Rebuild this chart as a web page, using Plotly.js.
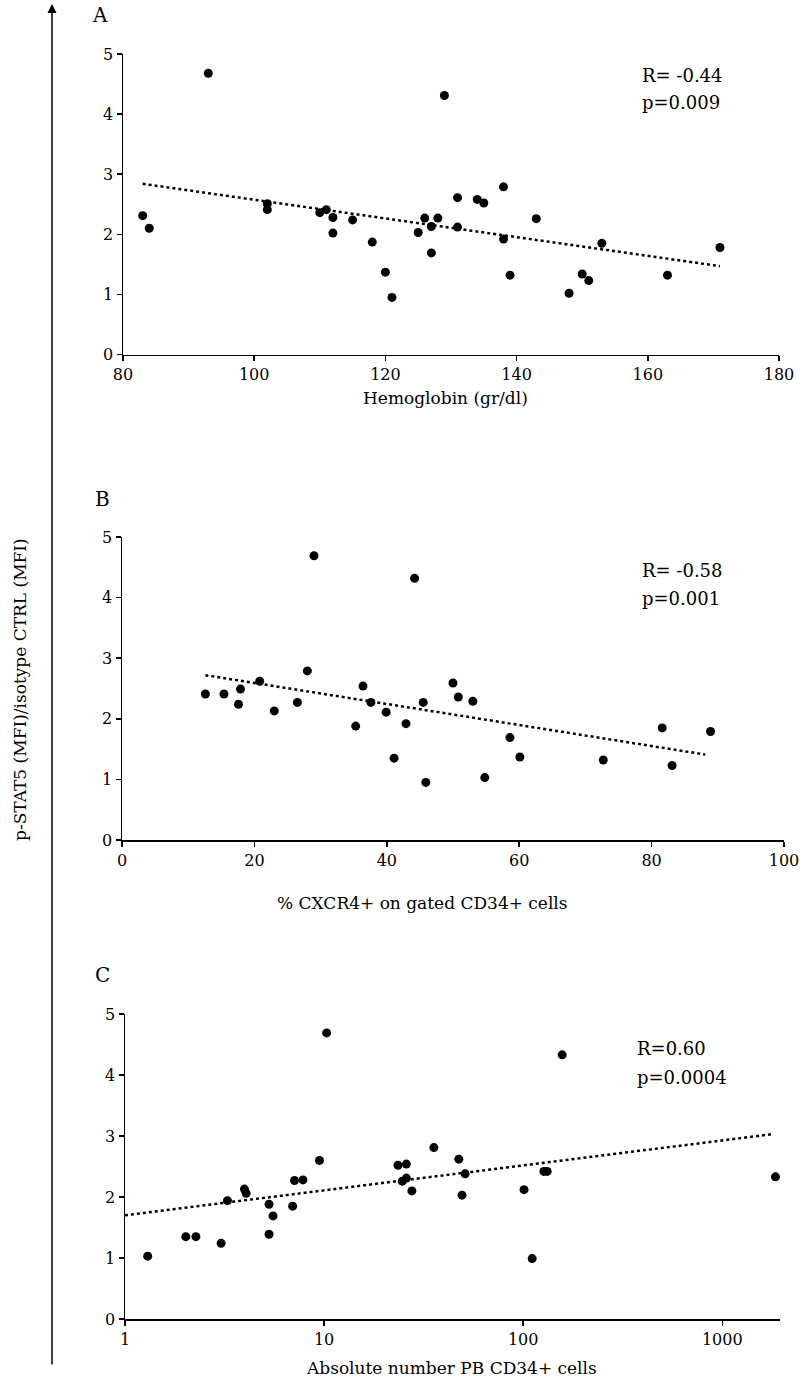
<!DOCTYPE html>
<html>
<head>
<meta charset="utf-8">
<script src="https://cdn.plot.ly/plotly-3.0.1.min.js"></script>
<style>html,body{margin:0;padding:0;background:#fff;}#chart{width:800px;height:1380px;}</style>
</head>
<body>
<div id="chart"></div>
<script>
// Panel A: Hemoglobin (gr/dl) vs p-STAT5 ratio
const hbX = [83,84,93,102,102,110,111,112,112,115,118,120,121,125,126,127,127,128,129,131,131,134,135,138,138,139,143,148,150,151,153,163,171];
const hbY = [2.31,2.10,4.68,2.51,2.41,2.36,2.41,2.28,2.02,2.24,1.87,1.37,0.95,2.03,2.27,2.13,1.69,2.27,4.31,2.61,2.12,2.58,2.52,2.79,1.92,1.32,2.26,1.02,1.34,1.23,1.85,1.32,1.78];
const hbTrendX = [83,171];
const hbTrendY = [2.84,1.47];

// Panel B: % CXCR4+ on gated CD34+ cells
const cxX = [12.6,15.4,17.6,17.9,20.8,23.0,26.5,28.0,29.0,35.3,36.4,37.6,39.9,41.1,42.9,44.2,45.5,45.9,50.0,50.8,53.0,54.8,58.6,60.1,72.7,81.6,83.1,88.9];
const cxY = [2.41,2.41,2.24,2.49,2.62,2.13,2.27,2.79,4.69,1.88,2.54,2.27,2.11,1.35,1.92,4.32,2.27,0.95,2.59,2.36,2.29,1.03,1.69,1.37,1.32,1.85,1.23,1.79];
const cxTrendX = [12.6,88.1];
const cxTrendY = [2.72,1.41];

// Panel C: Absolute number PB CD34+ cells (log)
const cdX = [1.30,2.02,2.27,3.04,3.27,3.98,4.06,5.29,5.29,5.54,6.95,7.10,7.83,9.48,10.3,23.5,24.7,25.9,25.9,27.6,35.6,47.5,49.3,51.1,101,111,127,132,157,1850];
const cdY = [1.03,1.35,1.35,1.24,1.94,2.13,2.06,1.88,1.39,1.69,1.85,2.27,2.28,2.60,4.69,2.52,2.26,2.54,2.31,2.10,2.81,2.62,2.03,2.38,2.12,0.99,2.42,2.42,4.33,2.33];
const cdTrendX = [1,1780];
const cdTrendY = [1.70,3.03];

const yTicks = [0,1,2,3,4,5];
const stats = [["R= -0.44","p=0.009"],["R= -0.58","p=0.001"],["R=0.60","p=0.0004"]];
const panelLetters = ["A","B","C"];
const xTitles = ["Hemoglobin (gr/dl)","% CXCR4+ on gated CD34+ cells","Absolute number PB CD34+ cells"];
const yTitle = "p-STAT5 (MFI)/isotype CTRL (MFI)";

const W = 800, H = 1380;
const px = x => x / W;
const py = y => 1 - y / H;
const FONT = "DejaVu Serif, Liberation Serif, serif";

const marker = {color:"#000", size: 9, symbol:"circle"};
const trendLine = {color:"#000", width: 2.5, dash:"dot"};

const traces = [
  {x: hbX, y: hbY, type:"scatter", mode:"markers", marker, xaxis:"x", yaxis:"y"},
  {x: hbTrendX, y: hbTrendY, type:"scatter", mode:"lines", line: trendLine, xaxis:"x", yaxis:"y"},
  {x: cxX, y: cxY, type:"scatter", mode:"markers", marker, xaxis:"x2", yaxis:"y2"},
  {x: cxTrendX, y: cxTrendY, type:"scatter", mode:"lines", line: trendLine, xaxis:"x2", yaxis:"y2"},
  {x: cdX, y: cdY, type:"scatter", mode:"markers", marker, xaxis:"x3", yaxis:"y3"},
  {x: cdTrendX, y: cdTrendY, type:"scatter", mode:"lines", line: trendLine, xaxis:"x3", yaxis:"y3"}
];

const axBase = {
  showline: true, linecolor:"#000", linewidth: 1.5,
  ticks:"outside", ticklen: 5, tickwidth: 1.5, tickcolor:"#000",
  showgrid:false, zeroline:false, fixedrange:true,
  ticklabeloverflow:"allow",
  tickfont:{family: FONT, size: 16, color:"#000"}
};

function yAxis(domain, anchor){
  return Object.assign({}, axBase, {domain, anchor, range:[0,5], tickvals: yTicks, ticktext: yTicks.map(String)});
}

const layout = {
  width: W, height: H,
  margin:{l:0,r:0,t:0,b:0},
  paper_bgcolor:"#fff", plot_bgcolor:"#fff",
  showlegend:false,
  font:{family: FONT, color:"#000"},
  xaxis: Object.assign({}, axBase, {domain:[px(123), px(779)], anchor:"y", range:[80,180], dtick:20, tick0:80}),
  yaxis: yAxis([py(354.5), py(54)], "x"),
  xaxis2: Object.assign({}, axBase, {domain:[px(122), px(784)], anchor:"y2", range:[0,100], dtick:20, tick0:0}),
  yaxis2: yAxis([py(840), py(537)], "x2"),
  xaxis3: Object.assign({}, axBase, {domain:[px(125), px(780)], anchor:"y3", type:"log", range:[0, 3.29], tickvals:[1,10,100,1000], ticktext:["1","10","100","1000"]}),
  yaxis3: yAxis([py(1319), py(1014)], "x3"),
  annotations: [],
  shapes: []
};

// Panel letters
const letterPos = [[100,15],[102,499],[102,975]];
panelLetters.forEach((t,i)=>{
  layout.annotations.push({text:t, x:px(letterPos[i][0]), y:py(letterPos[i][1]), xref:"paper", yref:"paper", showarrow:false, xanchor:"center", yanchor:"middle", font:{family:FONT, size:20, color:"#000"}});
});
// R / p stats
const statPos = [[640,75,103],[640,570,598],[635,1048,1077]];
stats.forEach((s,i)=>{
  layout.annotations.push({text:s[0], x:px(statPos[i][0]), y:py(statPos[i][1]), xref:"paper", yref:"paper", showarrow:false, xanchor:"left", yanchor:"middle", font:{family:FONT, size:18, color:"#000"}});
  layout.annotations.push({text:s[1], x:px(statPos[i][0]), y:py(statPos[i][2]), xref:"paper", yref:"paper", showarrow:false, xanchor:"left", yanchor:"middle", font:{family:FONT, size:18, color:"#000"}});
});
// X axis titles
const xTitlePos = [[445,398],[422,903],[452,1368]];
xTitles.forEach((t,i)=>{
  layout.annotations.push({text:t, x:px(xTitlePos[i][0]), y:py(xTitlePos[i][1]), xref:"paper", yref:"paper", showarrow:false, xanchor:"center", yanchor:"middle", font:{family:FONT, size:17, color:"#000"}});
});
// Shared Y title (rotated)
layout.annotations.push({text:yTitle, x:px(20), y:py(690), xref:"paper", yref:"paper", showarrow:false, textangle:-90, xanchor:"center", yanchor:"middle", font:{family:FONT, size:17, color:"#000"}});
// Long vertical arrow
layout.annotations.push({text:"", x:px(52), y:py(4), xref:"paper", yref:"paper", showarrow:true, axref:"pixel", ayref:"pixel", ax:0, ay:1362, arrowhead:2, arrowsize:1.2, arrowwidth:1.5, arrowcolor:"#000"});

Plotly.newPlot("chart", traces, layout, {displayModeBar:false, staticPlot:true});
</script>
</body>
</html>
